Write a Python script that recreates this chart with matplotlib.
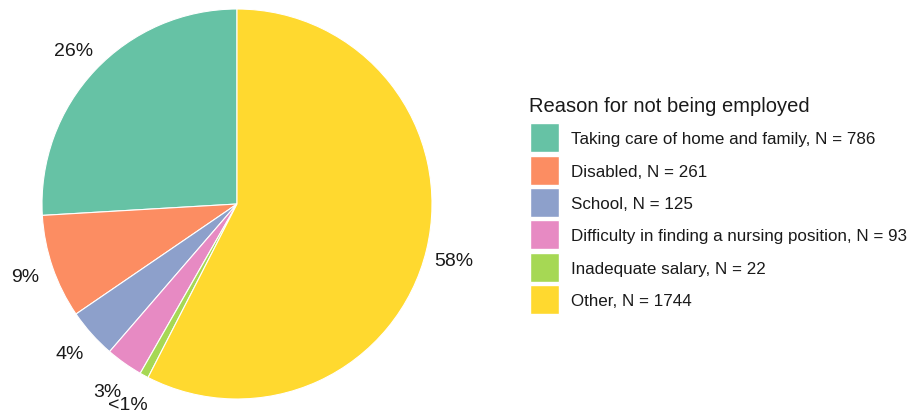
import numpy as np
import matplotlib.pyplot as plt
from matplotlib.patches import Patch

plt.rcParams['font.family'] = ['Liberation Sans', 'DejaVu Sans']

# Données
categories = ['Taking care of home and family', 'Disabled', 'School',
              'Difficulty in finding a nursing position', 'Inadequate salary', 'Other']
counts = [786, 261, 125, 93, 22, 1744]
pct_labels = ['26%', '9%', '4%', '3%', '<1%', '58%']
colors = ['#66C2A5', '#FC8D62', '#8DA0CB', '#E78AC3', '#A6D854', '#FFD92F']
legend_title = 'Reason for not being employed'

# Position des étiquettes (rayon, décalage angulaire en degrés)
label_radius = [1.15, 1.15, 1.15, 1.17, 1.17, 1.15]
label_shift = [0, 0, 0, 0.5, 0, -1]

fig = plt.figure(figsize=(9.11, 4.14), dpi=100)
ax = fig.add_axes([42 / 911, 14 / 414, 390 / 911, 390 / 414])

wedges, _ = ax.pie(counts, colors=colors, startangle=90, counterclock=True,
                   radius=1, wedgeprops=dict(edgecolor='white', linewidth=0.8))
ax.set_xlim(-1, 1)
ax.set_ylim(-1, 1)
ax.set_aspect('equal')

total = sum(counts)
cum = 0
for i, c in enumerate(counts):
    mid = 90 + (cum + c / 2) / total * 360 + label_shift[i]
    cum += c
    r = label_radius[i]
    ax.text(r * np.cos(np.radians(mid)), r * np.sin(np.radians(mid)), pct_labels[i],
            ha='center', va='center', fontsize=14, color='#1a1a1a', clip_on=False)

# Légende (titre dessiné à part pour régler l'écart)
fig.text(529 / 911, 1 - 112 / 414, legend_title, ha='left', va='baseline',
         fontsize=14.5, color='#1a1a1a')
handles = [Patch(facecolor=col, edgecolor='white') for col in colors]
labels = [f'{cat}, N = {n}' for cat, n in zip(categories, counts)]
leg = fig.legend(handles, labels, loc='upper left',
                 bbox_to_anchor=(527 / 911, 1 - 121 / 414),
                 frameon=False, fontsize=12.25,
                 handlelength=1.66, handleheight=2.24, labelspacing=0.2,
                 handletextpad=0.7, borderaxespad=0, borderpad=0.2)
for t in leg.get_texts():
    t.set_color('#1a1a1a')

fig.savefig('out.png', dpi=100)
